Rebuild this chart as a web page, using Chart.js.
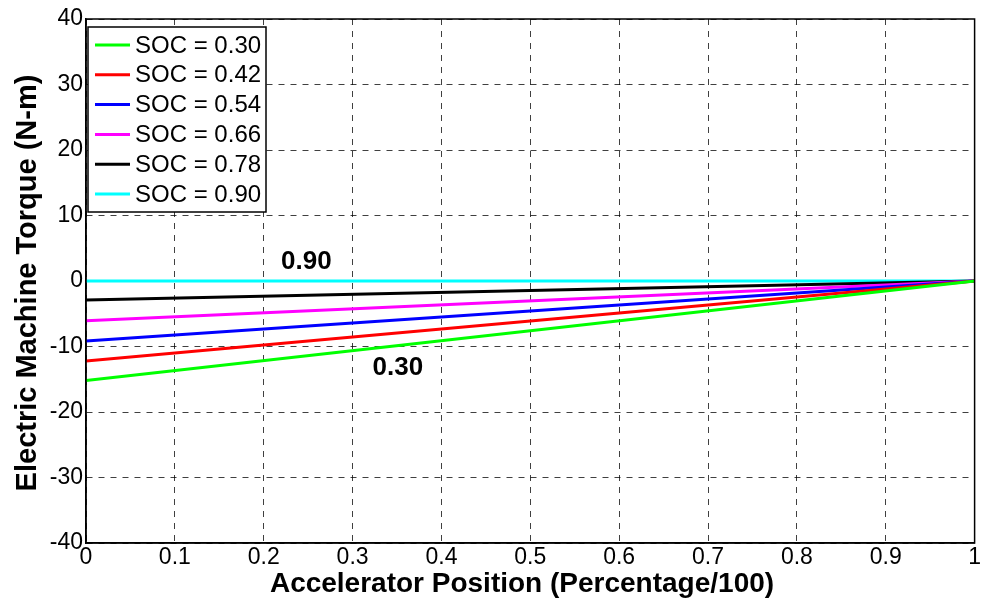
<!DOCTYPE html>
<html>
<head>
<meta charset="utf-8">
<script src="https://cdn.jsdelivr.net/npm/chart.js@4.4.1/dist/chart.umd.min.js"></script>
<style>
  html, body { margin: 0; padding: 0; background: #fff; }
  #wrap { width: 982px; height: 600px; }
</style>
</head>
<body>
<div id="wrap"><canvas id="chart" width="982" height="600"></canvas></div>
<script>
// posição do acelerador (início e fim de cada reta)
const accelPos = [0, 1];
const socLabels = ['SOC = 0.30', 'SOC = 0.42', 'SOC = 0.54', 'SOC = 0.66', 'SOC = 0.78', 'SOC = 0.90'];
const soc030 = [-15.2, 0];
const soc042 = [-12.2, 0];
const soc054 = [-9.15, 0];
const soc066 = [-6.05, 0];
const soc078 = [-2.9, 0];
const soc090 = [0, 0];
const lineColors = ['#00ff00', '#ff0000', '#0000ff', '#ff00ff', '#000000', '#00ffff'];

const xTicks = [0, 0.1, 0.2, 0.3, 0.4, 0.5, 0.6, 0.7, 0.8, 0.9, 1];
const yTicks = [-40, -30, -20, -10, 0, 10, 20, 30, 40];

const xTitle = 'Accelerator Position (Percentage/100)';
const yTitle = 'Electric Machine Torque (N-m)';

// rótulos dentro do gráfico
const noteTexts = ['0.90', '0.30'];
const noteX = [0.248, 0.351];
const noteY = [2.9, -13.3];

const FONT = 'Arial, "Liberation Sans", sans-serif';
const allSeries = [soc030, soc042, soc054, soc066, soc078, soc090];

const datasets = allSeries.map(function(s, i) {
    return {
        label: socLabels[i],
        data: s.map((v, k) => ({ x: accelPos[k], y: v })),
        borderColor: lineColors[i],
        backgroundColor: lineColors[i],
        borderWidth: 3,
        pointRadius: 0,
        fill: false,
        tension: 0
    };
});

// caixa da legenda, textos 0.90 / 0.30 e títulos dos eixos
const extras = {
    id: 'extras',
    beforeDraw(chart) {
        const ctx = chart.ctx;
        ctx.save();
        ctx.fillStyle = '#fff';
        ctx.fillRect(0, 0, chart.width, chart.height);
        ctx.restore();
    },
    afterDatasetsDraw(chart) {
        const ctx = chart.ctx;
        const xs = chart.scales.x, ys = chart.scales.y;
        ctx.save();
        ctx.fillStyle = '#000';
        ctx.font = 'bold 26px ' + FONT;
        ctx.textAlign = 'center';
        ctx.textBaseline = 'middle';
        for (let i = 0; i < noteTexts.length; i++) {
            ctx.fillText(noteTexts[i], xs.getPixelForValue(noteX[i]), ys.getPixelForValue(noteY[i]));
        }

        // legenda
        const bx = 88, by = 27, bw = 178, bh = 185, rowH = 29.8;
        ctx.fillStyle = '#fff';
        ctx.fillRect(bx, by, bw, bh);
        ctx.strokeStyle = '#000';
        ctx.lineWidth = 1.5;
        ctx.strokeRect(bx, by, bw, bh);
        ctx.font = '24px ' + FONT;
        ctx.textAlign = 'left';
        chart.data.datasets.forEach(function(ds, i) {
            const yy = by + 18 + i * rowH;
            ctx.strokeStyle = ds.borderColor;
            ctx.lineWidth = 3;
            ctx.beginPath();
            ctx.moveTo(95, yy);
            ctx.lineTo(130, yy);
            ctx.stroke();
            ctx.fillStyle = '#000';
            ctx.fillText(ds.label, 135, yy + 1);
        });
        ctx.restore();
    },
    afterDraw(chart) {
        const a = chart.chartArea;
        const ctx = chart.ctx;
        ctx.save();
        ctx.strokeStyle = '#000';
        ctx.lineWidth = 1.5;
        ctx.strokeRect(a.left, a.top, a.right - a.left, a.bottom - a.top);

        ctx.fillStyle = '#000';
        ctx.textAlign = 'center';
        ctx.font = 'bold 28px ' + FONT;
        ctx.textBaseline = 'alphabetic';
        ctx.fillText(xTitle, 522, 592);

        ctx.translate(28, (a.top + a.bottom) / 2 + 2);
        ctx.rotate(-Math.PI / 2);
        ctx.font = 'bold 29px ' + FONT;
        ctx.textBaseline = 'middle';
        ctx.fillText(yTitle, 0, 0);
        ctx.restore();
    }
};

new Chart(document.getElementById('chart'), {
    type: 'line',
    data: { datasets: datasets },
    plugins: [extras],
    options: {
        responsive: false,
        animation: false,
        layout: { padding: { top: 19, right: 7, left: 0, bottom: 0 } },
        plugins: { legend: { display: false }, tooltip: { enabled: false } },
        scales: {
            x: {
                type: 'linear',
                min: 0, max: 1,
                afterBuildTicks: (s) => { s.ticks = xTicks.map(v => ({ value: v })); },
                afterFit: (s) => { s.height = 57; },
                ticks: {
                    color: '#000',
                    font: { family: FONT, size: 23 },
                    padding: 1,
                    maxRotation: 0,
                    callback: (v) => String(v)
                },
                grid: { color: 'rgba(0,0,0,0.75)', lineWidth: 1, drawTicks: false, tickLength: 0 },
                border: { display: true, color: '#000', width: 1.5, dash: [6, 6] }
            },
            y: {
                type: 'linear',
                min: -40, max: 40,
                afterBuildTicks: (s) => { s.ticks = yTicks.map(v => ({ value: v })); },
                afterFit: (s) => { s.width = 86; },
                ticks: {
                    color: '#000',
                    font: { family: FONT, size: 23 },
                    padding: 3,
                    callback: (v) => String(v)
                },
                grid: { color: 'rgba(0,0,0,0.75)', lineWidth: 1, drawTicks: false, tickLength: 0 },
                border: { display: true, color: '#000', width: 1.5, dash: [6, 6] }
            }
        }
    }
});
</script>
</body>
</html>
